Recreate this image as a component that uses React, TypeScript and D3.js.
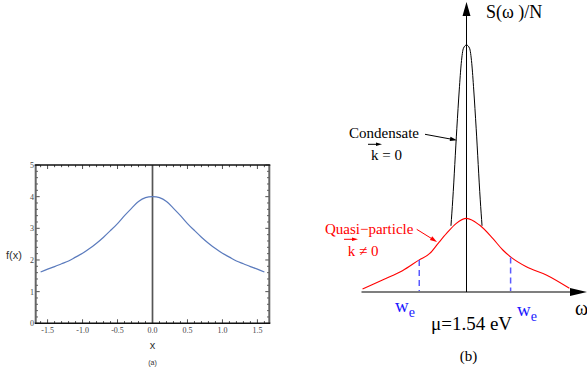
import React from "react";
import * as d3 from "d3";

// ---------- Panel (a) data ----------
const fxX = [-1.6, -1.5, -1.4, -1.3, -1.2, -1.1, -1.0, -0.9, -0.8, -0.7, -0.6, -0.5, -0.4, -0.3, -0.2, -0.1, 0,
  0.1, 0.2, 0.3, 0.4, 0.5, 0.6, 0.7, 0.8, 0.9, 1.0, 1.1, 1.2, 1.3, 1.4, 1.5, 1.6];
const fxY = [1.62, 1.71, 1.79, 1.88, 1.97, 2.09, 2.21, 2.36, 2.53, 2.72, 2.93, 3.15, 3.40, 3.63, 3.85, 3.97, 4.0,
  3.97, 3.85, 3.63, 3.40, 3.15, 2.93, 2.72, 2.53, 2.36, 2.21, 2.09, 1.97, 1.88, 1.79, 1.71, 1.62];
const aXTicks = [-1.5, -1.0, -0.5, 0.0, 0.5, 1.0, 1.5];
const aYTicks = [0, 1, 2, 3, 4, 5];

// ---------- Panel (b) data ----------
const quasiW = [-0.99, -0.8, -0.61, -0.45, -0.35, -0.27, -0.19, -0.1, 0, 0.124, 0.25, 0.346, 0.426, 0.57, 0.76, 0.98];
const quasiS = [0.012, 0.049, 0.086, 0.13, 0.156, 0.197, 0.237, 0.277, 0.298, 0.271, 0.217, 0.17, 0.14, 0.102, 0.069, 0.015];
const condW = [-0.148, -0.131, -0.092, -0.069, -0.05, -0.029, 0, 0.029, 0.05, 0.069, 0.092, 0.131, 0.148];
const condS = [0.268, 0.373, 0.663, 0.818, 0.926, 0.987, 1.0, 0.987, 0.926, 0.818, 0.663, 0.373, 0.268];
const weW = [-0.45, 0.42];
const weS = [0.13, 0.14];

const serif = "'Liberation Serif', 'Times New Roman', serif";
const sans = "'Liberation Sans', Arial, sans-serif";

function PanelA() {
  const x = d3.scaleLinear().domain([-1.67, 1.67]).range([35.7, 269.3]);
  const y = d3.scaleLinear().domain([0, 5]).range([323.3, 165]);
  const line = d3.line<number>().x((_, i) => x(fxX[i])).y((d) => y(d)).curve(d3.curveCatmullRom);
  const xMinor = d3.range(-16, 17).map((i) => i / 10);
  const yMinor = d3.range(0, 26).map((i) => i / 5);
  const isMajX = (v: number) => Math.abs(v * 2 - Math.round(v * 2)) < 1e-6;
  const isMajY = (v: number) => Math.abs(v - Math.round(v)) < 1e-6;
  const [x0, x1] = x.range();
  const [y0, y1] = y.range();
  return (
    <g>
      {xMinor.map((v, i) => {
        const L = isMajX(v) ? 4 : 2.2;
        return (
          <g key={"xt" + i} stroke="#222" strokeWidth={0.8}>
            <line x1={x(v)} x2={x(v)} y1={y0} y2={y0 - L} />
            <line x1={x(v)} x2={x(v)} y1={y1} y2={y1 + L} />
          </g>
        );
      })}
      {yMinor.map((v, i) => {
        const L = isMajY(v) ? 4 : 2.2;
        return (
          <g key={"yt" + i} stroke="#222" strokeWidth={0.8}>
            <line x1={x0} x2={x0 + L} y1={y(v)} y2={y(v)} />
            <line x1={x1} x2={x1 - L} y1={y(v)} y2={y(v)} />
          </g>
        );
      })}
      <line x1={x(0)} x2={x(0)} y1={y0} y2={y1} stroke="#555" strokeWidth={1.7} />
      <path d={line(fxY) || ""} fill="none" stroke="#5b7bbd" strokeWidth={1.2} />
      <line x1={x0} x2={x0} y1={y0} y2={y1} stroke="#666" strokeWidth={2} />
      <line x1={x1} x2={x1} y1={y0} y2={y1} stroke="#666" strokeWidth={2} />
      <line x1={x0 - 1} x2={x1 + 1} y1={y0} y2={y0} stroke="#111" strokeWidth={1.4} />
      <line x1={x0 - 1} x2={x1 + 1} y1={y1} y2={y1} stroke="#111" strokeWidth={1.4} />
      {aXTicks.map((v) => (
        <text key={"xl" + v} x={x(v)} y={333} textAnchor="middle" fontFamily={serif} fontSize={8} fill="#444">
          {v.toFixed(1)}
        </text>
      ))}
      {aYTicks.map((v) => (
        <text key={"yl" + v} x={34} y={y(v) + 3} textAnchor="end" fontFamily={serif} fontSize={8} fill="#444">
          {v}
        </text>
      ))}
      <text x={6} y={259} fontFamily={sans} fontSize={11} fill="#333">f(x)</text>
      <text x={x(0)} y={349} textAnchor="middle" fontFamily={sans} fontSize={11} fill="#333">x</text>
      <text x={x(0)} y={365} textAnchor="middle" fontFamily={sans} fontSize={7} fill="#333">(a)</text>
    </g>
  );
}

function arrowHead(x1: number, y1: number, x2: number, y2: number, len: number, half: number) {
  const a = Math.atan2(y2 - y1, x2 - x1);
  const bx = x2 - len * Math.cos(a);
  const by = y2 - len * Math.sin(a);
  const px = -Math.sin(a) * half;
  const py = Math.cos(a) * half;
  return `M${x2},${y2}L${bx + px},${by + py}L${bx - px},${by - py}Z`;
}

function PanelB() {
  const x = d3.scaleLinear().domain([-1, 1]).range([361.5, 571.5]);
  const y = d3.scaleLinear().domain([0, 1]).range([292, 45]);
  const quasiLine = d3.line<number>().x((_, i) => x(quasiW[i])).y((d) => y(d)).curve(d3.curveMonotoneX);
  const condLine = d3.line<number>().x((_, i) => x(condW[i])).y((d) => y(d)).curve(d3.curveMonotoneX);
  const ax = x(0);
  const ay = y(0);
  return (
    <g>
      <line x1={x(-1)} x2={572} y1={ay} y2={ay} stroke="#555" strokeWidth={1.6} />
      <path d={arrowHead(560, ay, 587, ay, 17, 4)} fill="#000" />
      <line x1={ax} x2={ax} y1={ay} y2={14} stroke="#000" strokeWidth={1} />
      <path d={arrowHead(ax, 30, ax, 2, 14, 4)} fill="#000" />
      <path d={condLine(condS) || ""} fill="none" stroke="#000" strokeWidth={1} />
      <path d={quasiLine(quasiS) || ""} fill="none" stroke="#ff0000" strokeWidth={1.1} />
      {weW.map((w, i) => (
        <line key={"we" + i} x1={x(w)} x2={x(w)} y1={y(weS[i])} y2={ay - 1} stroke="#5a5aff" strokeWidth={1.5} strokeDasharray="6,4" />
      ))}
      <text x={486} y={18} fontFamily={serif} fontSize={18} fill="#000">S(ω )/N</text>
      <text x={349} y={138} fontFamily={serif} fontSize={15} fill="#000">Condensate</text>
      <line x1={425} y1={134.3} x2={452} y2={139.3} stroke="#000" strokeWidth={1} />
      <path d={arrowHead(425, 134.3, 457, 140.2, 7, 2.2)} fill="#000" />
      <text x={371} y={160} fontFamily={serif} fontSize={15} fill="#000">k = 0</text>
      <line x1={368} x2={378} y1={144.3} y2={144.3} stroke="#000" strokeWidth={1} />
      <path d={arrowHead(368, 144.3, 382, 144.3, 6, 1.8)} fill="#000" />

      <text x={325} y={233.5} fontFamily={serif} fontSize={15} fill="#ff0000">Quasi−particle</text>
      <line x1={416.7} y1={229.3} x2={432} y2={238.8} stroke="#ff0000" strokeWidth={1} />
      <path d={arrowHead(416.7, 229.3, 437, 241.9, 7, 2.2)} fill="#ff0000" />
      <text x={347.7} y={255.7} fontFamily={serif} fontSize={15} fill="#ff0000">k ≠ 0</text>
      <line x1={344} x2={354} y1={239.3} y2={239.3} stroke="#ff0000" strokeWidth={1} />
      <path d={arrowHead(344, 239.3, 358, 239.3, 6, 1.8)} fill="#ff0000" />

      <text x={395} y={311.5} fontFamily={serif} fontSize={19} fill="#1a1aff">
        w<tspan fontSize={14} dy={5}>e</tspan>
      </text>
      <text x={517} y={315.5} fontFamily={serif} fontSize={19} fill="#1a1aff">
        w<tspan fontSize={14} dy={5}>e</tspan>
      </text>
      <text x={575} y={315} fontFamily={serif} fontSize={20} fill="#000">ω</text>
      <text x={431} y={330} fontFamily={serif} fontSize={19} fill="#000">μ=1.54 eV</text>
      <text x={468.5} y={361} textAnchor="middle" fontFamily={serif} fontSize={15} fill="#000">(b)</text>
    </g>
  );
}

export default function App() {
  return (
    <svg
      width={587}
      height={379}
      viewBox="0 0 587 379"
      style={{ position: "absolute", left: 0, top: 0, background: "#fff" }}
    >
      <rect x={0} y={0} width={587} height={379} fill="#fff" />
      <PanelA />
      <PanelB />
    </svg>
  );
}
